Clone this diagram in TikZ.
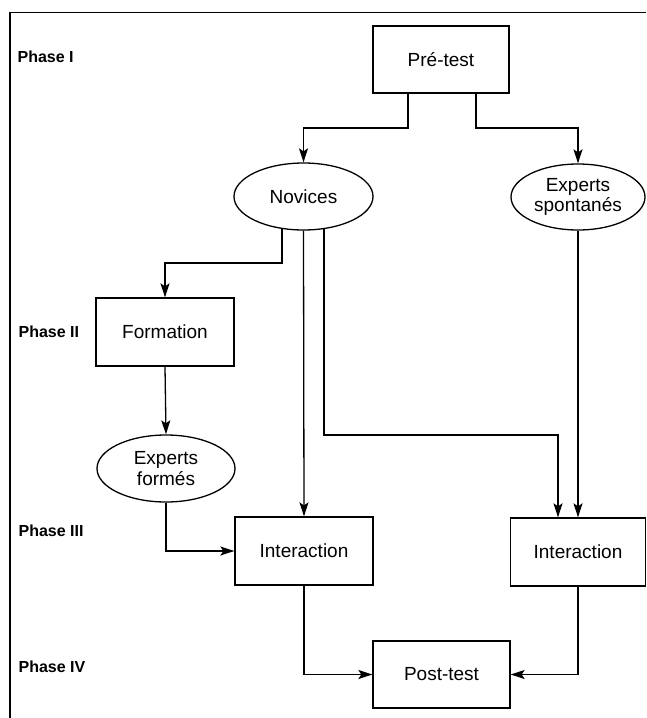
\documentclass[tikz,border=0pt]{standalone}
\usepackage{fontspec}
\setmainfont{Liberation Sans}
\usetikzlibrary{shapes.geometric,arrows.meta}
\begin{document}
\begin{tikzpicture}[x=1pt,y=-1pt,
  line width=1.3pt,
  box/.style={draw,rectangle,inner sep=0pt,font=\fontsize{19}{21}\selectfont,align=center},
  oval/.style={draw,ellipse,inner sep=0pt,font=\fontsize{19}{20.5}\selectfont,align=center},
  phase/.style={anchor=west,inner sep=0pt,font=\fontsize{16}{18}\bfseries\selectfont},
  arr/.style={-{Stealth[length=14pt,width=9pt,inset=3pt]}},
  frame/.style={line width=1.2pt}]
\useasboundingbox (0,0) rectangle (646,718);
\draw[frame] (10,718) -- (10,12.5) -- (646,12.5);

\node[phase] (p1) at (17,57) {Phase I};
\node[phase] (p2) at (18,332) {Phase II};
\node[phase] (p3) at (18,531) {Phase III};
\node[phase] (p4) at (18,667) {Phase IV};

\node[box,minimum width=136pt,minimum height=67pt] (pre) at (441,59.5) {Pré-test};
\node[oval,minimum width=139pt,minimum height=67pt] (nov) at (303.5,196.5) {Novices};
\node[oval,minimum width=134pt,minimum height=66pt] (exs) at (578,197) {Experts\\spontanés};
\node[box,minimum width=138pt,minimum height=68pt] (form) at (165,332) {Formation};
\node[oval,minimum width=138pt,minimum height=67pt] (exf) at (166,468.5) {Experts\\formés};
\node[box,minimum width=138pt,minimum height=68pt] (int1) at (304,551) {Interaction};
\node[box,minimum width=135pt,minimum height=68pt] (int2) at (578,552) {Interaction};
\node[box,minimum width=137pt,minimum height=67pt] (post) at (441.5,674.5) {Post-test};

\coordinate (b1) at (303.5,128);
\coordinate (b2) at (578,128);
\coordinate (b3) at (165,263);
\coordinate (b4) at (558,435);

\draw[arr] ([xshift=-33pt]pre.south) |- (b1) -- (nov.north);
\draw[arr] ([xshift=35pt]pre.south) |- (b2) -- (exs.north);
\draw[arr] ([xshift=-21.5pt,yshift=1.6pt]nov.south) |- (b3) -- (form.north);
\draw[arr] (nov.south) -- (int1.north);
\draw[arr] ([xshift=20.5pt,yshift=1.6pt]nov.south) |- (b4) -- ([xshift=-20pt]int2.north);
\draw[arr] (exs.south) -- (int2.north);
\draw[arr] (form.south) -- (exf.north);
\draw[arr] (exf.south) |- (int1.west);
\draw[arr] (int1.south) |- (post.west);
\draw[arr] (int2.south) |- (post.east);
\end{tikzpicture}
\end{document}
